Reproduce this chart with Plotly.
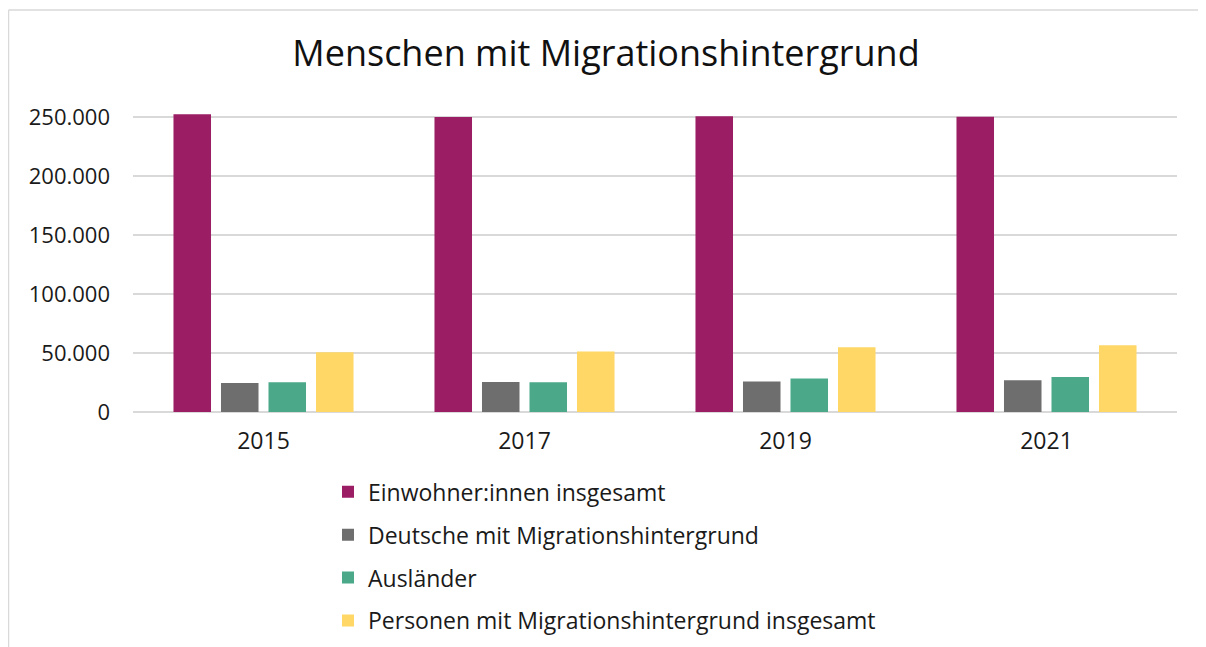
import plotly.graph_objects as go

years = ["2015", "2017", "2019", "2021"]
series_names = [
    "Einwohner:innen insgesamt",
    "Deutsche mit Migrationshintergrund",
    "Ausländer",
    "Personen mit Migrationshintergrund insgesamt",
]
einwohner = [252500, 250300, 251000, 250500]
deutsche_mh = [24600, 25500, 25800, 26900]
auslaender = [25200, 25200, 28400, 29700]
personen_mh = [50700, 51300, 54900, 56600]
y_ticks = [0, 50000, 100000, 150000, 200000, 250000]

colors = ["#9B1E65", "#6E6E6E", "#4BA98A", "#FED766"]
values = [einwohner, deutsche_mh, auslaender, personen_mh]

FONT = "Open Sans"

fig = go.Figure()
for i, (name, vals) in enumerate(zip(series_names, values)):
    fig.add_trace(go.Bar(
        x=years, y=vals, name=name, legendgroup=f"g{i}",
        marker=dict(color=colors[i], line=dict(width=0)),
    ))

# page has an 8px body margin; work in page pixels and convert
OFF = 8
W, H = 1206 - OFF, 647 - OFF
ZERO = 411.7 - OFF
L, R, T = 133 - OFF, 1206 - 1177, 100 - OFF
B = H - ZERO
pw = W - L - R
ph = H - T - B

def px_x(p):
    return (p - OFF - L) / pw

def px_y(p):
    return (ZERO - (p - OFF)) / ph

fig.update_layout(
    width=W, height=H,
    margin=dict(l=L, r=R, t=T, b=B, autoexpand=False),
    paper_bgcolor="white", plot_bgcolor="white",
    separators=",.",
    barmode="group", bargap=0.272, bargroupgap=0.21,
    font=dict(family=FONT, color="#1a1a1a"),
    title=dict(text="Menschen mit Migrationshintergrund", x=(606 - OFF) / W, xanchor="center",
               y=1 - (53 - OFF) / H, yanchor="middle", font=dict(size=36, family=FONT, color="#111")),
    xaxis=dict(showgrid=False, showline=False, ticks="", tickfont=dict(size=23),
               ticklabelstandoff=13),
    yaxis=dict(range=[0, (411.7 - 100) / 1.1776 * 1000], tickvals=y_ticks,
               tickformat=",d", showgrid=True, gridcolor="#d9d9d9", gridwidth=1.5,
               zeroline=True, zerolinecolor="#d9d9d9", zerolinewidth=1.5,
               showline=False, ticks="", tickfont=dict(size=22), ticklabelstandoff=22),
    legend=dict(orientation="v", x=px_x(328), xanchor="left", y=px_y(470), yanchor="top",
                traceorder="grouped", tracegroupgap=10, font=dict(size=23),
                bgcolor="rgba(0,0,0,0)"),
    showlegend=True,
)

fig.add_shape(type="line", xref="paper", yref="paper", x0=px_x(8.5), x1=px_x(8.5),
              y0=px_y(647), y1=px_y(10), line=dict(color="#d9d9d9", width=1.5))
fig.add_shape(type="line", xref="paper", yref="paper", x0=px_x(8.5), x1=px_x(1206),
              y0=px_y(10), y1=px_y(10), line=dict(color="#d9d9d9", width=1.5))

fig.write_html("out.html")
